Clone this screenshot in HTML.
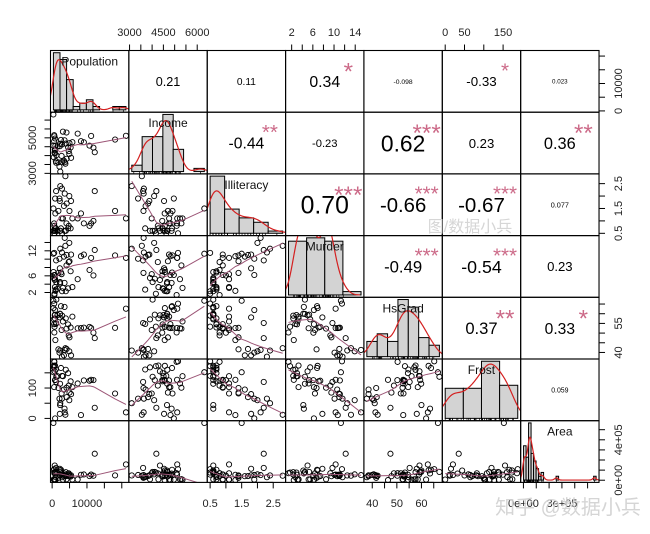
<!DOCTYPE html>
<html><head><meta charset="utf-8"><style>
html,body{margin:0;padding:0;background:#fff;}
svg{display:block;font-family:"Liberation Sans",Arial,sans-serif;}
</style></head><body>
<svg id="chart" width="650" height="534" viewBox="0 0 650 534" xmlns="http://www.w3.org/2000/svg"></svg>
<script>
// ---- data (state.x77) ----
const varNames = ["Population","Income","Illiteracy","Murder","HsGrad","Frost","Area"];
const population = [3615,365,2212,2110,21198,2541,3100,579,8277,4931,868,813,11197,5313,2861,2280,3387,3806,1058,4122,5814,9111,3921,2341,4767,746,1544,590,812,7333,1144,18076,5441,637,10735,2715,2284,11860,931,2816,681,4173,12237,1203,472,4981,3559,1799,4589,376];
const income = [3624,6315,4530,3378,5114,4884,5348,4809,4815,4091,4963,4119,5107,4458,4628,4669,3712,3545,3694,5299,4755,4751,4675,3098,4254,4347,4508,5149,4281,5237,3601,4903,3875,5087,4561,3983,4660,4449,4558,3635,4167,3821,4188,4022,3907,4701,4864,3617,4468,4566];
const illiteracy = [2.1,1.5,1.8,1.9,1.1,0.7,1.1,0.9,1.3,2.0,1.9,0.6,0.9,0.7,0.5,0.6,1.6,2.8,0.7,0.9,1.1,0.9,0.6,2.4,0.8,0.6,0.6,0.5,0.7,1.1,2.2,1.4,1.8,0.8,0.8,1.1,0.6,1.0,1.3,2.3,0.5,1.7,2.2,0.6,0.6,1.4,0.6,1.4,0.7,0.6];
const murder = [15.1,11.3,7.8,10.1,10.3,6.8,3.1,6.2,10.7,13.9,6.2,5.3,10.3,7.1,2.3,4.5,10.6,13.2,2.7,8.5,3.3,11.1,2.3,12.5,9.3,5.0,2.9,11.5,3.3,5.2,9.7,10.9,11.1,1.4,7.4,6.4,4.2,6.1,2.4,11.6,1.7,11.0,12.2,4.5,5.5,9.5,4.3,6.7,3.0,6.9];
const hsGrad = [41.3,66.7,58.1,39.9,62.6,63.9,56.0,54.6,52.6,40.6,61.9,59.5,52.6,52.9,59.0,59.9,38.5,42.2,54.7,52.3,58.5,52.8,57.6,41.0,48.8,59.2,59.3,65.2,57.6,52.5,55.2,52.7,38.5,50.3,53.2,51.6,60.0,50.2,46.4,37.8,53.3,41.8,47.4,67.3,57.1,47.8,63.5,41.6,54.5,62.9];
const frost = [20,152,15,65,20,166,139,103,11,60,0,126,127,122,140,114,95,12,161,101,103,125,160,50,108,155,139,188,174,115,120,82,80,186,124,82,44,126,127,65,172,70,35,137,168,85,32,100,149,173];
const area = [50708,566432,113417,51945,156361,103766,4862,1982,54090,58073,6425,82677,55748,36097,55941,81787,39650,44930,30920,9891,7826,56817,79289,47296,68995,145587,76483,109889,9027,7521,121412,47831,48798,69273,40975,68782,96184,44966,1049,30225,75955,41328,262134,82096,9267,39780,66570,24070,54464,97203];
// printed correlations (upper triangle, row-major)
const corText = ["0.21","0.11","0.34","-0.098","-0.33","0.023","-0.44","-0.23","0.62","0.23","0.36","0.70","-0.66","-0.67","0.077","-0.49","-0.54","0.23","0.37","0.33","0.059"];
const corStars = ["","","*","","*","","**","","***","","**","***","***","***","","***","***","","**","*",""];
// histogram break widths
const histStep = [2000,500,0.5,5,5,50,20000];
// axis ticks and labels
const tickVals = [[0,5000,10000,15000,20000],[3000,3500,4000,4500,5000,5500,6000],[0.5,1,1.5,2,2.5],[2,4,6,8,10,12,14],[40,45,50,55,60,65],[0,50,100,150],[0,100000,200000,300000,400000,500000]];
const xTickLabels = [["0","10000"],["3000","4500","6000"],["0.5","1.5","2.5"],["2","6","10","14"],["40","50","60"],["0","50","150"],["0e+00","3e+05"]];
const xTickLabelVals = [[0,10000],[3000,4500,6000],[0.5,1.5,2.5],[2,6,10,14],[40,50,60],[0,50,150],[0,300000]];
const yTickLabels = [["0","10000"],["3000","5000"],["0.5","1.5","2.5"],["2","6","12"],["40","55"],["0","100"],["0e+00","4e+05"]];
const yTickLabelVals = [[0,10000],[3000,5000],[0.5,1.5,2.5],[2,6,12],[40,55],[0,100],[0,400000]];

const data = [population,income,illiteracy,murder,hsGrad,frost,area];
const svg = document.getElementById('chart');
const NS = "http://www.w3.org/2000/svg";
const X0 = 50.5, W = 78.36, Y0 = 50.5, H = 61.7, N = 7;
function mk(tag, attrs, parent){ const e=document.createElementNS(NS,tag); for(const k in attrs) e.setAttribute(k,attrs[k]); (parent||svg).appendChild(e); return e; }
function rng(a){ let lo=Math.min(...a), hi=Math.max(...a), d=hi-lo; return [lo-0.04*d, hi+0.04*d]; }
const lims = data.map(rng);
function sx(j,v){ const [lo,hi]=lims[j]; return X0+j*W+(v-lo)/(hi-lo)*W; }
function sy(i,v){ const [lo,hi]=lims[i]; return Y0+(i+1)*H-(v-lo)/(hi-lo)*H; }

const defs = mk('defs',{});
for(let i=0;i<N;i++)for(let j=0;j<N;j++){
  const cp=mk('clipPath',{id:'c'+i+'_'+j},defs);
  mk('rect',{x:X0+j*W,y:Y0+i*H,width:W,height:H},cp);
}

function lowess(x,y,f=2/3,iter=3){
  const n=x.length, idx=[...x.keys()].sort((a,b)=>x[a]-x[b]);
  const xs=idx.map(k=>x[k]), ys=idx.map(k=>y[k]);
  const ns=Math.max(Math.min(Math.round(f*n),n),2);
  let rw=new Array(n).fill(1), fit=new Array(n).fill(0);
  for(let it=0;it<=iter;it++){
    for(let i=0;i<n;i++){
      const d=xs.map(v=>Math.abs(v-xs[i])).slice().sort((a,b)=>a-b);
      let h=Math.max(d[ns-1],1e-12);
      let sw=0,swx=0,swy=0,swxx=0,swxy=0;
      for(let k=0;k<n;k++){ let r=Math.abs(xs[k]-xs[i])/h; if(r>=1)continue;
        let w=Math.pow(1-r*r*r,3)*rw[k]; sw+=w;swx+=w*xs[k];swy+=w*ys[k];swxx+=w*xs[k]*xs[k];swxy+=w*xs[k]*ys[k];}
      if(sw<=0){fit[i]=ys[i];continue;}
      const mx=swx/sw,my=swy/sw,vx=swxx/sw-mx*mx;
      const b=vx>1e-12*(h*h)?(swxy/sw-mx*my)/vx:0;
      fit[i]=my+b*(xs[i]-mx);
    }
    if(it===iter)break;
    const res=ys.map((v,k)=>Math.abs(v-fit[k])); const s=res.slice().sort((a,b)=>a-b);
    const m=6*((s[Math.floor((n-1)/2)]+s[Math.ceil((n-1)/2)])/2);
    rw=res.map(r=>{ if(m<=0)return 1; const u=r/m; return u<1?Math.pow(1-u*u,2):0;});
  }
  return [xs,fit];
}
function quantile(s,p){ const h=(s.length-1)*p, lo=Math.floor(h); return s[lo]+(h-lo)*(s[Math.ceil(h)]-s[lo]); }

let ci=0;
for(let i=0;i<N;i++){
  for(let j=0;j<N;j++){
    const px=X0+j*W, py=Y0+i*H;
    const g=mk('g',{});
    if(i===j){
      
      
      const v=data[i], step=histStep[i];
      const b0=Math.floor(Math.min(...v)/step)*step, b1=Math.ceil(Math.max(...v)/step)*step;
      const nb=Math.round((b1-b0)/step); const counts=new Array(nb).fill(0);
      v.forEach(x=>{ let k=Math.ceil((x-b0)/step-1e-9)-1; if(k<0)k=0; if(k>=nb)k=nb-1; counts[k]++; });
      const dens=counts.map(c=>c/(v.length*step)); const dmax=Math.max(...dens);
      const xl=b0-0.04*(b1-b0), xh=b1+0.04*(b1-b0);
      const hx=t=>px+(t-xl)/(xh-xl)*W;
      const base=py+H-H*0.038;
      const hyy=t=>base-(t/(dmax*1.08))*H;
      const gc=mk('g',{'clip-path':'url(#c'+i+'_'+j+')'},g);
      dens.forEach((d,k)=>{
        const r=mk('rect',{x:hx(b0+k*step),y:hyy(d),width:hx(b0+(k+1)*step)-hx(b0+k*step),height:base-hyy(d),fill:'#d3d3d3',stroke:'#000','stroke-width':1},gc);
        
        
      });
      const n=v.length, mean=v.reduce((a,b)=>a+b)/n, sd=Math.sqrt(v.reduce((a,b)=>a+(b-mean)**2,0)/(n-1));
      const s=v.slice().sort((a,b)=>a-b), iqr=quantile(s,0.75)-quantile(s,0.25);
      const bw=0.9*Math.min(sd,iqr/1.34)*Math.pow(n,-0.2);
      const lo=s[0]-3*bw, hi=s[n-1]+3*bw; let pts=[];
      for(let k=0;k<=200;k++){ const t=lo+(hi-lo)*k/200; let dd=0; v.forEach(x=>{const z=(t-x)/bw; dd+=Math.exp(-z*z/2);}); dd/=n*bw*Math.sqrt(2*Math.PI); pts.push(hx(t).toFixed(2)+','+hyy(dd).toFixed(2)); }
      const dl=mk('polyline',{points:pts.join(' '),fill:'none',stroke:'#d42020','stroke-width':1.2},gc);
      
      
      v.forEach(x=>{ mk('line',{x1:hx(x),x2:hx(x),y1:py+H,y2:py+H-2.5,stroke:'#000','stroke-width':0.7},gc); });
      const lb=mk('text',{x:px+W/2,y:py+15,'text-anchor':'middle','font-size':12,fill:'#111'},g);
      lb.textContent=varNames[i];
      
      
    } else if(j>i){
      
      
      const txt=corText[ci], st=corStars[ci]; ci++;
      const r=Math.abs(parseFloat(txt));
      let em=0; for(const ch of txt) em+= ch==='.'?0.278:(ch==='-'?0.333:0.556);
      const fs=0.8*W/em*(r+0.3)/1.3;
      const t=mk('text',{x:px+W/2,y:py+H/2+fs*0.36,'text-anchor':'middle','font-size':fs.toFixed(2),fill:'#000'},g);
      t.textContent=txt;
      
      
      if(st){ const sfs=0.75*0.8*W/em; const s=mk('text',{x:px+0.8*W,y:py+14+sfs*0.62,'text-anchor':'middle','font-size':sfs.toFixed(2),fill:'#cc6a88'},g);
        s.textContent=st;
        
         }
    } else {
      
      
      const gc=mk('g',{'clip-path':'url(#c'+i+'_'+j+')'},g);
      const xv=data[j], yv=data[i];
      xv.forEach((x,k)=>{ const c=mk('circle',{cx:sx(j,x).toFixed(2),cy:sy(i,yv[k]).toFixed(2),r:2.6,fill:'none',stroke:'#000','stroke-width':0.9},gc);
        
         });
      const [lx,ly]=lowess(xv,yv);
      const sl=mk('polyline',{points:lx.map((x,k)=>sx(j,x).toFixed(2)+','+sy(i,ly[k]).toFixed(2)).join(' '),fill:'none',stroke:'#9c5576','stroke-width':1},gc);
      
      
    }
    mk('rect',{x:px,y:py,width:W,height:H,fill:'none',stroke:'#000','stroke-width':1.1},g);
  }
}

for(let k=0;k<N;k++){
  const top = (k%2===1);
  const ax=mk('g',{});
  
  
  const yb= top? Y0 : Y0+N*H, dir= top?-1:1;
  const tv=tickVals[k], t0=sx(k,tv[0]), t1=sx(k,tv[tv.length-1]);
  mk('line',{x1:t0,x2:t1,y1:yb,y2:yb,stroke:'#000','stroke-width':1},ax);
  tv.forEach(v=>mk('line',{x1:sx(k,v),x2:sx(k,v),y1:yb,y2:yb+dir*6,stroke:'#000','stroke-width':1},ax));
  xTickLabelVals[k].forEach((v,m)=>{ const t=mk('text',{x:sx(k,v),y: top? 36: 507,'text-anchor':'middle','font-size':11,fill:'#222'},ax); t.textContent=xTickLabels[k][m]; });
  const right=(k%2===0);
  const ay=mk('g',{});
  
  
  const xb= right? X0+N*W : X0, dx= right?1:-1;
  const u0=sy(k,tv[0]), u1=sy(k,tv[tv.length-1]);
  mk('line',{x1:xb,x2:xb,y1:u0,y2:u1,stroke:'#000','stroke-width':1},ay);
  tv.forEach(v=>mk('line',{x1:xb,x2:xb+dx*6,y1:sy(k,v),y2:sy(k,v),stroke:'#000','stroke-width':1},ay));
  yTickLabelVals[k].forEach((v,m)=>{ const lx= right? 622 : 36; const ly=sy(k,v);
    const t=mk('text',{x:lx,y:ly,'text-anchor':'middle','font-size':11,fill:'#222',transform:'rotate(-90 '+lx+' '+ly+')'},ay); t.textContent=yTickLabels[k][m]; });
}
</script>
<svg style="position:absolute;left:0;top:0" width="650" height="534">
<text x="470" y="232" text-anchor="middle" font-size="16" fill="#d6d6d6" font-family="'Liberation Sans','Noto Sans CJK SC',sans-serif">图/数据小兵</text>
<text x="568" y="514" text-anchor="middle" font-size="20" fill="#d0d0d0" fill-opacity="0.9" font-family="'Liberation Sans','Noto Sans CJK SC',sans-serif">知乎 @数据小兵</text>
</svg>
</body></html>
